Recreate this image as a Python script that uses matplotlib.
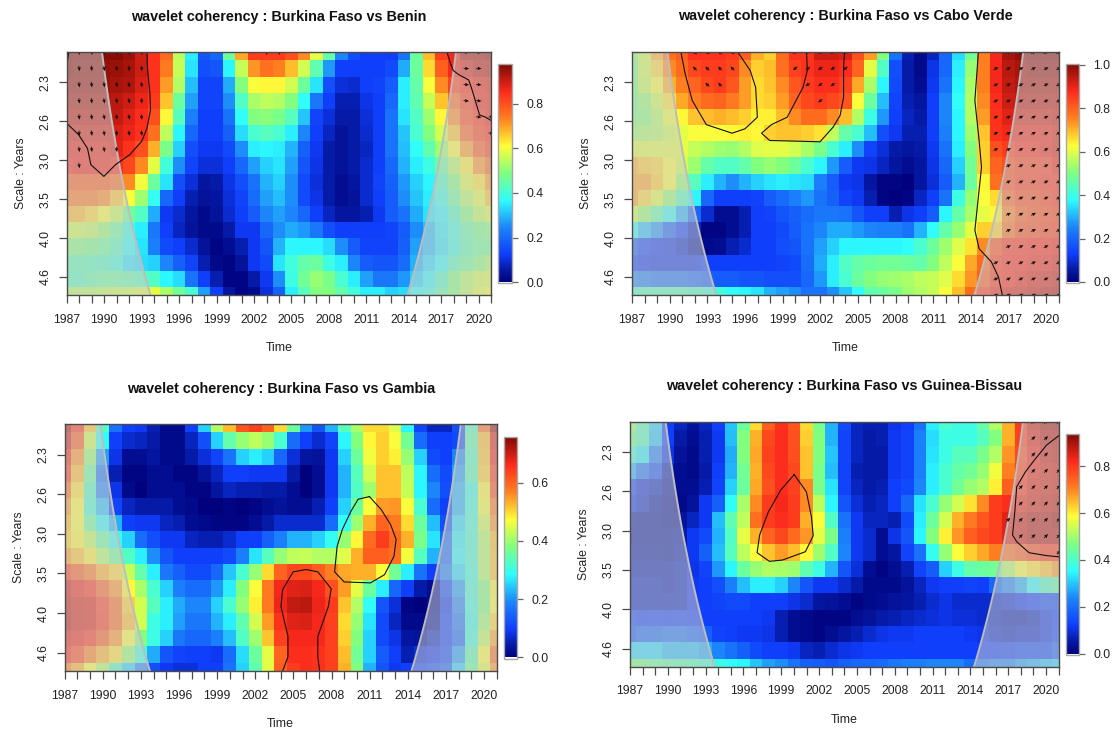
import numpy as np
import matplotlib
matplotlib.use("Agg")
import matplotlib.pyplot as plt
from matplotlib.colors import LinearSegmentedColormap

plt.rcParams['font.family'] = ['Liberation Sans', 'DejaVu Sans']

years = list(range(1987, 2022))
scale_ticks = [1.2, 1.4, 1.6, 1.8, 2.0, 2.2]   # log2 of period
scale_labels = ['2.3', '2.6', '3.0', '3.5', '4.0', '4.6']
x_tick_years = list(range(1987, 2021, 3))

titles = ['wavelet coherency : Burkina Faso vs Benin',
          'wavelet coherency : Burkina Faso vs Cabo Verde',
          'wavelet coherency : Burkina Faso vs Gambia',
          'wavelet coherency : Burkina Faso vs Guinea-Bissau']
value_max = [0.976, 1.005, 0.758, 0.94]
cbar_ticks = [[0, .2, .4, .6, .8], [0, .2, .4, .6, .8, 1.0], [0, .2, .4, .6], [0, .2, .4, .6, .8]]

# coherency as percent of each panel's colour range; rows = voices, columns = years
benin = [
[99,99,99,99,99,97,92,86,78,56,36,17,20,47,71,85,85,85,82,74,60,46,25,16,13,13,13,22,47,69,84,88,95,96,97],
[99,98,98,98,97,96,92,86,76,57,35,16,17,37,57,73,77,75,69,58,45,27,13,13,13,13,15,29,47,66,80,88,91,93,94],
[97,97,97,97,96,95,91,86,72,55,31,14,14,29,50,62,63,63,58,47,35,16,10,9,13,14,18,36,46,62,74,84,87,89,90],
[95,95,95,95,94,92,89,85,68,47,28,14,14,26,43,54,56,55,50,38,23,13,7,7,11,13,20,36,45,57,68,78,85,88,89],
[93,93,93,93,93,90,87,82,63,44,24,13,13,22,38,50,51,49,44,32,14,10,6,6,10,13,22,35,43,53,63,74,83,86,88],
[91,91,91,91,91,89,86,77,56,37,20,13,13,19,34,42,44,42,36,25,13,8,4,6,9,13,22,32,42,50,58,68,79,84,87],
[89,89,89,89,90,86,82,70,49,33,16,12,12,15,26,36,37,36,30,19,12,6,4,6,8,13,22,31,38,45,53,62,72,80,84],
[87,88,88,88,87,83,74,60,41,26,14,10,10,13,20,28,33,35,28,17,11,6,4,6,9,13,20,30,36,40,47,55,64,73,78],
[80,80,80,80,78,74,61,47,35,16,10,5,6,11,16,22,30,33,26,15,10,6,3,5,9,14,19,27,33,37,43,50,59,65,72],
[76,76,76,74,68,62,53,39,20,13,7,4,5,10,14,21,28,31,26,15,11,6,3,4,9,13,18,26,32,36,40,47,55,60,68],
[69,69,66,62,57,48,43,29,12,9,5,2,4,9,13,18,25,28,25,20,13,8,5,5,7,12,18,22,29,35,37,43,50,56,59],
[58,58,56,52,47,40,36,23,13,8,4,2,2,6,12,12,20,26,29,27,23,16,13,13,13,13,14,18,26,31,36,41,46,49,51],
[51,50,49,47,44,38,35,24,15,13,9,4,1,3,7,12,17,30,37,37,37,34,26,18,14,14,14,19,28,31,35,40,45,48,48],
[45,45,44,43,41,35,34,33,25,19,14,7,2,1,4,12,15,35,41,46,47,40,36,25,18,17,17,21,30,34,38,44,47,51,54],
[44,44,46,47,47,46,44,43,37,34,22,13,7,1,1,6,12,26,40,48,52,49,42,36,28,23,23,27,33,37,43,50,55,58,59],
[55,55,55,56,57,58,59,60,54,48,42,28,13,5,1,2,10,19,36,44,50,50,46,41,36,36,33,34,38,40,46,50,55,60,62],
]
cabo_verde = [
[52,58,70,77,80,86,86,86,85,80,70,67,78,86,86,92,92,91,82,72,50,22,7,2,8,20,34,48,75,88,96,98,99,99,99],
[50,58,66,74,78,83,85,85,83,74,67,69,77,84,86,89,89,87,79,60,43,16,6,2,11,20,36,52,75,88,94,96,97,97,97],
[50,57,62,70,75,79,83,85,81,72,66,68,74,81,85,87,87,84,71,54,37,15,6,3,12,22,37,54,75,88,93,95,95,95,95],
[49,52,58,65,71,75,78,79,76,72,66,67,72,79,83,85,83,81,62,47,31,14,7,5,13,25,38,55,74,87,92,93,93,93,93],
[50,51,55,61,63,68,69,70,69,67,64,64,69,74,78,78,74,69,55,40,27,13,8,6,13,25,37,55,72,86,90,91,91,91,92],
[53,54,55,58,60,62,62,62,63,64,63,67,68,68,67,65,56,46,42,31,16,12,7,7,13,24,37,53,68,86,88,88,88,88,90],
[60,60,60,60,60,57,55,53,52,55,59,60,60,58,54,49,42,36,26,14,10,6,5,6,12,22,36,50,67,82,85,87,87,88,90],
[70,67,66,62,58,53,46,43,43,46,50,52,50,47,42,37,27,18,12,11,8,5,3,5,11,20,33,48,67,79,82,84,84,85,88],
[71,71,67,62,52,44,36,30,26,30,33,35,36,35,34,24,18,12,11,5,1,1,0,5,10,18,30,47,63,77,82,85,85,86,86],
[71,66,60,52,44,37,20,13,13,13,14,18,21,24,27,22,19,14,12,7,1,0,1,8,13,22,40,52,62,66,79,83,83,84,86],
[58,52,46,39,30,20,9,3,3,7,13,14,17,19,21,23,23,22,17,13,13,7,11,13,18,37,46,54,60,63,75,80,82,83,84],
[38,32,27,19,13,8,1,1,3,7,13,13,15,18,22,25,29,29,27,25,24,24,22,30,38,46,52,60,67,67,77,82,83,84,85],
[18,14,12,11,9,6,2,3,7,9,13,13,16,17,22,28,33,37,37,37,37,37,38,42,47,53,59,65,74,82,86,86,87,87,88],
[13,12,11,11,11,11,13,13,13,13,13,13,14,15,21,29,36,43,46,47,48,48,47,46,50,56,62,71,78,85,87,87,88,88,90],
[25,24,22,22,22,20,19,18,18,17,17,16,16,16,20,27,36,42,47,50,52,53,54,56,57,59,66,73,80,86,87,89,90,91,92],
[44,44,44,44,44,43,42,41,38,37,35,30,28,26,22,22,26,32,38,45,47,49,53,55,57,62,69,78,85,88,90,91,92,93,94],
]
gambia = [
[95,86,68,43,22,13,12,7,2,2,13,33,55,69,81,84,79,66,47,27,17,30,44,54,66,66,59,37,14,8,8,16,44,77,97],
[92,80,58,38,13,9,8,6,2,2,8,16,33,46,52,56,52,42,21,13,9,14,37,50,63,67,62,48,21,13,13,15,46,69,90],
[88,73,52,28,11,3,3,5,2,2,6,10,14,22,33,36,33,20,10,5,4,12,33,47,61,67,64,52,33,15,13,25,44,68,88],
[85,69,47,22,7,1,1,3,3,1,1,4,8,13,13,12,12,12,6,0,3,12,30,44,58,68,68,56,37,21,15,28,45,67,85],
[78,65,43,25,11,2,0,3,3,3,1,1,5,8,7,7,6,6,3,0,3,12,30,43,53,68,68,57,37,25,16,30,40,63,82],
[72,62,42,31,14,8,6,6,6,3,2,0,0,1,0,1,3,4,3,3,7,13,33,47,62,72,73,62,42,21,13,30,41,61,76],
[69,62,47,37,30,13,12,12,8,7,3,2,1,1,1,3,6,9,9,9,9,21,38,53,70,79,76,66,47,31,16,34,42,58,73],
[67,63,56,47,39,33,21,16,12,12,8,7,7,9,13,13,19,24,30,30,33,39,52,63,78,85,78,70,49,35,21,36,42,55,69],
[72,68,64,55,48,43,36,26,17,13,13,13,13,15,24,35,44,52,56,57,55,55,59,70,80,80,77,61,44,30,21,37,42,55,68],
[84,80,76,70,66,57,46,36,23,19,15,15,20,32,42,52,66,79,83,83,80,75,71,70,70,62,48,36,22,13,24,34,41,55,68],
[92,88,86,79,73,63,54,42,33,24,21,21,27,36,50,62,76,88,90,91,88,82,72,60,47,36,20,13,6,3,15,28,42,50,63],
[93,91,90,84,78,67,58,44,36,29,25,25,33,42,52,64,76,89,93,94,89,85,68,55,38,17,10,1,0,3,12,25,41,50,62],
[94,91,90,85,78,69,58,40,36,28,23,23,30,36,45,58,72,86,90,91,88,84,66,52,35,15,8,2,2,4,13,23,40,53,66],
[90,88,86,80,73,62,50,40,33,23,20,20,24,31,43,53,68,84,88,88,88,84,67,50,33,15,11,5,4,8,13,20,41,56,71],
[87,83,75,70,65,52,41,29,17,14,13,13,12,21,34,47,60,79,87,87,86,84,69,48,33,18,13,7,10,12,15,28,45,62,77],
[75,70,62,55,43,33,25,16,12,10,10,13,13,22,33,45,60,80,85,87,86,84,70,50,30,17,12,13,13,16,19,33,47,60,72],
]
guinea_bissau = [
[53,44,33,13,8,4,8,13,32,47,66,80,86,81,66,49,30,15,8,7,7,11,13,22,36,42,40,40,46,55,70,85,92,95,96],
[49,44,32,13,6,3,7,12,31,50,70,83,87,82,67,50,30,14,8,6,7,12,14,24,34,40,40,40,44,50,70,84,90,93,94],
[42,36,24,11,4,2,7,12,29,50,71,84,87,82,68,50,32,14,8,6,6,12,14,24,35,40,44,44,49,55,73,83,88,92,93],
[30,23,16,7,3,2,6,13,30,48,70,83,87,83,68,49,31,14,7,6,6,12,14,24,36,42,46,48,52,61,75,84,89,91,92],
[14,10,8,5,3,3,7,14,33,47,71,82,87,84,74,49,35,14,8,6,7,13,15,25,36,42,48,52,55,64,80,86,90,91,92],
[11,9,6,4,2,4,12,19,38,54,74,85,88,85,74,56,37,17,10,7,8,13,20,35,42,52,58,65,74,85,87,89,91,92,93],
[6,5,5,4,4,8,12,31,45,56,77,85,87,85,70,62,43,22,12,8,8,7,15,36,47,58,70,76,81,85,90,92,94,94,96],
[5,5,5,5,6,12,15,30,43,60,70,79,83,78,73,60,49,24,12,9,3,11,17,37,50,64,73,80,83,85,90,92,94,94,94],
[6,6,6,5,7,12,19,31,44,56,62,68,72,69,63,53,43,25,12,9,3,5,14,22,39,52,62,67,71,75,77,80,83,85,85],
[7,7,7,7,8,11,14,27,37,47,52,55,54,53,45,40,30,17,10,3,1,3,7,14,18,33,40,46,47,48,55,62,65,68,72],
[8,8,8,7,8,12,13,16,24,31,36,36,33,25,17,12,12,9,6,2,2,2,4,8,12,13,13,14,13,20,25,30,38,43,46],
[8,8,8,8,8,12,13,14,15,15,13,13,13,11,9,5,4,3,1,2,3,4,5,7,9,11,9,9,9,9,10,12,13,15,15],
[15,13,14,13,14,13,13,13,13,13,13,12,7,3,2,1,1,1,3,4,6,7,8,9,10,11,10,10,9,8,7,7,8,11,13],
[17,20,20,22,22,20,19,14,13,12,12,11,7,3,2,1,3,5,7,9,11,12,12,13,13,13,13,12,11,9,8,9,9,11,14],
[34,34,34,31,31,31,29,25,22,19,15,13,13,12,8,7,9,11,12,13,13,13,13,13,13,13,13,13,13,13,14,15,15,15,19],
[50,49,47,46,45,44,42,40,38,37,32,28,26,22,19,18,17,19,20,20,21,23,24,24,25,25,25,21,23,25,25,28,30,32,33],
]
panels = [benin, cabo_verde, gambia, guinea_bissau]

# significance contours: (year, voice index)
benin_contours = [
 ([1987.17, 1987.0], [0, 0.8]),
 ([1987, 1987.96, 1988.66, 1988.94, 1989.98, 1990.9, 1992.03, 1993.0, 1993.43, 1993.71, 1993.66, 1993.46, 1993.43],
  [4.38, 5.10, 5.93, 6.95, 7.67, 6.95, 6.34, 5.51, 4.69, 3.56, 2.53, 0.88, 0]),
 ([2017.45, 2017.73, 2017.96, 2018.43, 2019.19, 2019.42, 2019.7, 2020.06, 2020.54, 2021],
  [0, 0.68, 1.13, 1.4, 1.71, 2.22, 2.94, 3.87, 4.01, 4.22]),
]
cabo_contours = [
 ([1990.9, 1991.24, 1991.8, 1992.92, 1994.97, 1996.0, 1996.99, 1996.85, 1996.42, 1995.44],
  [0, 1.34, 2.98, 4.47, 5.0, 4.73, 4.01, 2.16, 1.13, 0]),
 ([2000.91, 2000.97, 2000.63, 1999.93, 1999.37, 1998.11, 1997.32, 1997.97, 2001.98, 2003.02, 2003.58, 2003.86, 2003.86, 2003.94],
  [0, 1.13, 2.16, 3.19, 4.01, 4.47, 5.0, 5.45, 5.53, 4.63, 3.91, 2.78, 0.93, 0]),
 ([2014.6, 2014.32, 2014.66, 2014.85, 2014.57, 2014.32, 2014.66, 2015.64, 2016.2, 2016.51],
  [0, 2.98, 5.45, 7.1, 9.16, 11.0, 12.14, 12.96, 13.89, 15.0]),
]
gambia_contours = [
 ([2010.98, 2010.09, 2009.54, 2008.85, 2008.44, 2008.24, 2008.99, 2011.06, 2012.17, 2012.91, 2013.08, 2012.64, 2011.89, 2010.98],
  [4.41, 4.57, 5.28, 6.4, 7.42, 8.98, 9.59, 9.65, 9.15, 8.03, 7.01, 6.1, 5.18, 4.41]),
 ([2004.15, 2004.57, 2004.57, 2004.02, 2004.15, 2004.98, 2006.0, 2006.92, 2007.97, 2007.75, 2006.92, 2006.92, 2007.06],
  [15, 14.13, 12.9, 11.08, 10.06, 8.98, 8.84, 8.98, 10, 11.08, 12.9, 14.13, 15]),
]
guinea_contours = [
 ([2000.02, 1998.96, 1997.98, 1997.28, 1997.08, 1998.06, 1999.09, 2000.91, 2001.53, 2001.39, 2000.99, 2000.02],
  [3.24, 4.18, 5.51, 6.94, 8.02, 8.55, 8.47, 7.96, 6.98, 5.82, 4.29, 3.24]),
 ([2021, 2020.04, 2019.07, 2018.37, 2017.67, 2017.53, 2017.34, 2017.67, 2018.65, 2020.04, 2021],
  [0.86, 1.43, 2.35, 3.06, 3.98, 5.41, 6.94, 7.35, 8.02, 8.2, 8.27]),
]
contours = [benin_contours, cabo_contours, gambia_contours, guinea_contours]

# phase arrows: (angle in degrees, [(voice, first year, last year), ...])
benin_arrows = [
 (-82, [(0,1988,1993),(1,1988,1993),(2,1988,1993),(3,1988,1993),(4,1988,1993),(5,1987,1993),(6,1987,1991),(7,1987,1988),(0,2003,2004)]),
 (-5, [(0,2019,2020),(1,2019,2020),(2,2019,2020),(3,2019,2020),(4,2020,2021),(5,2021,2021)]),
]
cabo_arrows = [
 (135, [(0,1992,1995),(1,1992,1995),(2,1993,1994)]),
 (215, [(0,2000,2004),(1,2000,2004),(2,2001,2003),(3,2002,2002)]),
 (28, [(r,2016,2021) for r in (1,2,3,4,5,6)] + [(r,2017,2021) for r in (0,7,8,9,10,11,12)] + [(r,2016,2021) for r in (13,14,15)]),
]
gambia_arrows = []
guinea_arrows = [
 (45, [(0,2019,2021),(1,2019,2020),(2,2019,2020),(3,2019,2021),(4,2018,2021),(5,2018,2021),(6,2017,2021),(7,2018,2021),(8,2021,2021)]),
]
arrows = [benin_arrows, cabo_arrows, gambia_arrows, guinea_arrows]

# pixel boxes (left, top, right, bottom)
heat_boxes = [(66.7,52.3,491.3,295),(632,52.3,1058.7,295),(64.6,424,496.8,671),(630,421.7,1058.7,666.7)]
bar_boxes = [(497.7,64.3,511.7,283.5),(1065.7,63.5,1079,283.3),(503.8,436.7,516.8,658.7),(1065.7,433.5,1079,655)]
title_pads = [22.5, 23, 22, 22.5]

W, H = 1112, 730
DARK = '#4a4a4a'
jet_colors = LinearSegmentedColormap.from_list('jetcolors',
    [(0.0,'#01017E'),(0.06,'#051CA8'),(0.125,'#0F3CFA'),(0.25,'#1C84FA'),(0.375,'#2DFDFE'),
     (0.5,'#80FF80'),(0.625,'#FFFD38'),(0.75,'#FF8020'),(0.875,'#FC2A1C'),(1.0,'#7F0A05')], N=256)

def box_axes(fig, box):
    l, t, r, b = box
    return fig.add_axes([l/W, 1-b/H, (r-l)/W, (b-t)/H])

log2_top, log2_step = 1.046, 0.0831
coi_factor = 1.37
rows_fine = np.linspace(-0.5, 15.5, 100)
coi_width = coi_factor * 2 ** (log2_top + log2_step * rows_fine)

fig = plt.figure(figsize=(W/100, H/100), dpi=100)
for i in range(4):
    ax = box_axes(fig, heat_boxes[i])
    vals = np.array(panels[i]) / 100 * value_max[i]
    mesh = ax.pcolormesh(np.arange(1986.5, 2022), np.arange(-0.5, 16), vals,
                         cmap=jet_colors, vmin=0, vmax=value_max[i], antialiased=False)
    ax.fill_betweenx(rows_fine, 1987, 1987 + coi_width, color='0.8', alpha=0.54, lw=0, zorder=3)
    ax.fill_betweenx(rows_fine, 2021 - coi_width, 2021, color='0.8', alpha=0.54, lw=0, zorder=3)
    ax.plot(1987 + coi_width, rows_fine, color='#bdbdbd', lw=1.4, zorder=4)
    ax.plot(2021 - coi_width, rows_fine, color='#bdbdbd', lw=1.4, zorder=4)
    for cx, cy in contours[i]:
        ax.plot(cx, cy, color='#111111', lw=0.8, zorder=5)
    for angle, spans in arrows[i]:
        xs, ys = [], []
        for row, y0, y1 in spans:
            for yr in range(y0, y1 + 1):
                xs.append(yr); ys.append(row)
        a = np.deg2rad(angle)
        ax.quiver(xs, ys, 5.5*np.cos(a)*np.ones(len(xs)), 5.5*np.sin(a)*np.ones(len(xs)),
                  angles='uv', units='dots', scale_units='dots', scale=1, pivot='mid',
                  width=0.8, headwidth=4.5, headlength=5, headaxislength=4.5, color='#111111', zorder=6)
    ax.set_xlim(1987, 2021)
    ax.set_ylim(15, 0)
    ax.set_xticks(years)
    ax.set_xticklabels([str(y) if y in x_tick_years else '' for y in years], fontsize=8.8, color='#222222')
    ax.set_yticks([(t - log2_top) / log2_step for t in scale_ticks])
    ax.set_yticklabels(scale_labels, rotation=90, va='center', fontsize=8.8, color='#222222')
    ax.tick_params(axis='x', length=5.5, width=0.9, color=DARK, pad=8)
    ax.tick_params(axis='y', length=5.5, width=0.9, color=DARK, pad=5.5)
    for s in ax.spines.values():
        s.set_color(DARK); s.set_linewidth(1.0); s.set_zorder(7)
    ax.set_xlabel('Time', fontsize=8.8, color='#222222', labelpad=12)
    ax.set_ylabel('Scale : Years', fontsize=8.8, color='#222222', labelpad=9)
    ax.set_title(titles[i], fontsize=10.35, fontweight='bold', pad=title_pads[i], color='#111111')

    cax = box_axes(fig, bar_boxes[i])
    cb = fig.colorbar(mesh, cax=cax)
    cax.set_ylim(-0.006 * value_max[i], value_max[i])
    cb.set_ticks(cbar_ticks[i])
    cb.set_ticklabels(['%.1f' % t for t in cbar_ticks[i]])
    cax.tick_params(axis='y', length=4.5, width=0.9, color='#666666', labelsize=8.8, labelcolor='#222222', pad=6)
    cb.outline.set_edgecolor('#a8a8a8')
    cb.outline.set_linewidth(1.0)

fig.savefig('out.png', dpi=100)
